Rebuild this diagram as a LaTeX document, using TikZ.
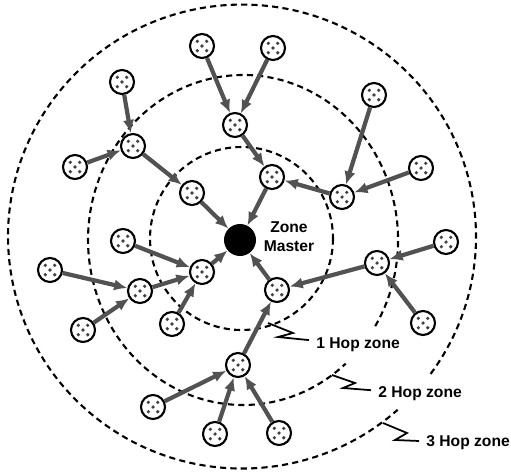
\documentclass[tikz,border=0pt]{standalone}
\usepackage{fontspec}
\setmainfont{Liberation Sans}
\usepackage{tikz}
\usetikzlibrary{arrows.meta}
\tikzset{
  sens/.style={circle,draw,line width=1.2pt,fill=white,inner sep=0pt,minimum size=0.48cm,
    path picture={\foreach \dx/\dy in {-1/1,1/1,0/0,-1/-1,1/-1}
      \fill[black!75] ([shift={(\dx*2.7pt,\dy*2.7pt)}]path picture bounding box.center) circle[radius=1pt];}},
  master/.style={circle,fill=black,inner sep=0pt,minimum size=0.64cm},
  lnk/.style={-{Latex[length=7.5pt,width=6.5pt]},line width=2.4pt,draw=black!68},
  zone/.style={line width=1.2pt,dash pattern=on 3.5pt off 2.4pt},
  wig/.style={line width=1pt},
  lbl/.style={font=\bfseries\fontsize{8.9}{10.8}\selectfont,inner sep=4pt}
}

\begin{document}
\begin{tikzpicture}[x=0.02cm,y=-0.02cm]
\useasboundingbox (0,0) rectangle (511,474);
% hop zones
\draw[zone] (241.5,238.5) circle[radius=91.5];
\draw[zone] (375.2,326.2) arc[start angle=31.5,end angle=-311.5,x radius=155,y radius=165];
\draw[zone] (430.6,373.9) arc[start angle=36.3,end angle=-311.7,x radius=234,y radius=232];
% master
\node[master] (Z) at (240,240) {};
\node[lbl,align=center] (ZT) at (289,237) {Zone\\Master};
% 1 hop
\node[sens] (A1) at (192,193) {};
\node[sens] (A2) at (272,177) {};
\node[sens] (A3) at (202,272) {};
\node[sens] (A4) at (277,290) {};
% 2 hop
\node[sens] (B1) at (133,146) {};
\node[sens] (B2) at (235,125) {};
\node[sens] (B3) at (342,197) {};
\node[sens] (B4) at (123,241) {};
\node[sens] (B5) at (140,291) {};
\node[sens] (B6) at (172,324) {};
\node[sens] (B7) at (377,263) {};
\node[sens] (B8) at (238,365) {};
% 3 hop
\node[sens] (C1) at (202,46) {};
\node[sens] (C2) at (273,48) {};
\node[sens] (C3) at (122,82) {};
\node[sens] (C4) at (75,167) {};
\node[sens] (C5) at (374,95) {};
\node[sens] (C6) at (421,168) {};
\node[sens] (C7) at (50,270) {};
\node[sens] (C8) at (83,330) {};
\node[sens] (C9) at (446,242) {};
\node[sens] (C10) at (423,323) {};
\node[sens] (C11) at (153,407) {};
\node[sens] (C12) at (215,434) {};
\node[sens] (C13) at (279,433) {};
% links
\draw[lnk] (A1) -- (Z);
\draw[lnk] (A2) -- (Z);
\draw[lnk] (A3) -- (Z);
\draw[lnk] (A4) -- (Z);
\draw[lnk] (B1) -- (A1);
\draw[lnk] (B2) -- (A2);
\draw[lnk] (B3) -- (A2);
\draw[lnk] (B4) -- (A3);
\draw[lnk] (B5) -- (A3);
\draw[lnk] (B6) -- (A3);
\draw[lnk] (B7) -- (A4);
\draw[lnk] (B8) -- (A4);
\draw[lnk] (C1) -- (B2);
\draw[lnk] (C2) -- (B2);
\draw[lnk] (C3) -- (B1);
\draw[lnk] (C4) -- (B1);
\draw[lnk] (C5) -- (B3);
\draw[lnk] (C6) -- (B3);
\draw[lnk] (C7) -- (B5);
\draw[lnk] (C8) -- (B5);
\draw[lnk] (C9) -- (B7);
\draw[lnk] (C10) -- (B7);
\draw[lnk] (C11) -- (B8);
\draw[lnk] (C12) -- (B8);
\draw[lnk] (C13) -- (B8);
% zone labels
\coordinate (W1) at (268,323);
\coordinate (W2) at (332,375);
\coordinate (W3) at (383,423);
\node[lbl,anchor=west] (L1) at (309,345) {1 Hop zone};
\node[lbl,anchor=west] (L2) at (371,394) {2 Hop zone};
\node[lbl,anchor=west] (L3) at (419,443) {3 Hop zone};
\draw[wig] (W1) -- (293,333) -- (278,337) -- (L1);
\draw[wig] (W2) -- (355,383) -- (343,388) -- (L2);
\draw[wig] (W3) -- (407,433) -- (395,440) -- (L3);
\end{tikzpicture}
\end{document}
